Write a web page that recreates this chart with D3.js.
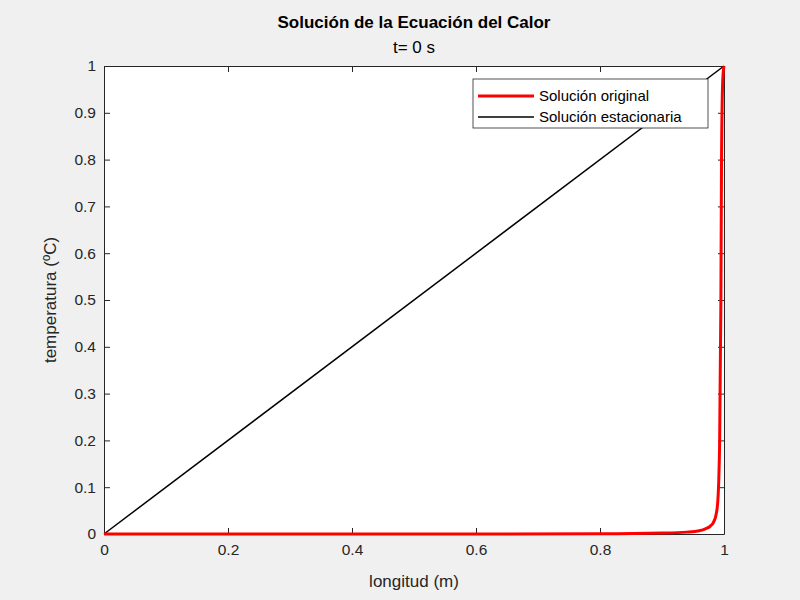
<!DOCTYPE html>
<html><head><meta charset="utf-8">
<script src="https://cdn.jsdelivr.net/npm/d3@7"></script>
<style>body{margin:0;background:#f0f0f0}</style>
</head><body>
<svg id="c" width="800" height="600"></svg>
<script>
// temperatura inicial (roja) y estacionaria (negra)
const originalX = [0, 0.5, 0.8, 0.9, 0.94, 0.96, 0.97, 0.978, 0.983, 0.987, 0.990, 0.993, 0.995, 0.996, 0.998, 1];
const originalY = [0, 0, 0.0005, 0.002, 0.004, 0.007, 0.011, 0.017, 0.025, 0.04, 0.07, 0.2, 0.5, 0.8, 0.97, 1];
const stationaryX = [0, 1];
const stationaryY = [0, 1];
const xTicks = [0, 0.2, 0.4, 0.6, 0.8, 1];
const yTicks = [0, 0.1, 0.2, 0.3, 0.4, 0.5, 0.6, 0.7, 0.8, 0.9, 1];

const svg = d3.select("#c");
const margin = {top: 66, right: 76, bottom: 66, left: 104};
const width = 800, height = 600;
const x = d3.scaleLinear().domain([0, 1]).range([margin.left, width - margin.right]);
const y = d3.scaleLinear().domain([0, 1]).range([height - margin.bottom, margin.top]);
const font = "Helvetica, Arial, 'Liberation Sans', sans-serif";

svg.append("rect").attr("x", x(0)).attr("y", y(1))
  .attr("width", x(1) - x(0)).attr("height", y(0) - y(1)).attr("fill", "white");

const fmt = d => d3.format("~g")(d);
const styleAxis = g => {
  g.selectAll("text").attr("font-family", font).attr("font-size", 15.5).attr("fill", "#262626");
  g.selectAll("line,path").attr("stroke", "#262626");
};
svg.append("g").attr("transform", `translate(0,${y(0)})`)
  .call(d3.axisBottom(x).tickValues(xTicks).tickFormat(fmt).tickSizeInner(-6).tickSizeOuter(0).tickPadding(10))
  .call(styleAxis);
svg.append("g").attr("transform", `translate(0,${y(1)})`)
  .call(d3.axisTop(x).tickValues(xTicks).tickFormat("").tickSizeInner(-6).tickSizeOuter(0))
  .call(styleAxis);
svg.append("g").attr("transform", `translate(${x(0)},0)`)
  .call(d3.axisLeft(y).tickValues(yTicks).tickFormat(fmt).tickSizeInner(-6).tickSizeOuter(0).tickPadding(8))
  .call(styleAxis);
svg.append("g").attr("transform", `translate(${x(1)},0)`)
  .call(d3.axisRight(y).tickValues(yTicks).tickFormat("").tickSizeInner(-6).tickSizeOuter(0))
  .call(styleAxis);

const line = d3.line().x(d => x(d[0])).y(d => y(d[1]));
svg.append("path").datum(stationaryX.map((v, i) => [v, stationaryY[i]]))
  .attr("d", line).attr("fill", "none").attr("stroke", "black").attr("stroke-width", 1.5);
svg.append("path").datum(originalX.map((v, i) => [v, originalY[i]]))
  .attr("d", d3.line().x(d => x(d[0])).y(d => y(d[1])).curve(d3.curveMonotoneX))
  .attr("fill", "none").attr("stroke", "#ff0000").attr("stroke-width", 3).attr("stroke-linejoin", "round");

svg.append("text").attr("x", 414).attr("y", 28).attr("text-anchor", "middle")
  .attr("font-family", font).attr("font-size", 17).attr("font-weight", "bold").attr("fill", "#000")
  .text("Solución de la Ecuación del Calor");
svg.append("text").attr("x", 414).attr("y", 53).attr("text-anchor", "middle")
  .attr("font-family", font).attr("font-size", 17).attr("fill", "#000").text("t= 0 s");
svg.append("text").attr("x", 414).attr("y", 587).attr("text-anchor", "middle")
  .attr("font-family", font).attr("font-size", 17).attr("fill", "#262626").text("longitud (m)");
svg.append("text").attr("transform", "translate(56,300) rotate(-90)").attr("text-anchor", "middle")
  .attr("font-family", font).attr("font-size", 17).attr("fill", "#262626").text("temperatura (ºC)");

const legend = svg.append("g").attr("transform", "translate(473,79)");
legend.append("rect").attr("width", 235).attr("height", 49).attr("fill", "white").attr("stroke", "#262626").attr("stroke-width", 0.8);
const items = [["Solución original", "#ff0000", 3], ["Solución estacionaria", "black", 1.5]];
items.forEach((it, i) => {
  const yy = 17 + i * 21;
  legend.append("line").attr("x1", 5).attr("x2", 61).attr("y1", yy).attr("y2", yy)
    .attr("stroke", it[1]).attr("stroke-width", it[2]);
  legend.append("text").attr("x", 66).attr("y", yy + 5).attr("font-family", font).attr("font-size", 15)
    .attr("fill", "#000").text(it[0]);
});
</script>
</body></html>
